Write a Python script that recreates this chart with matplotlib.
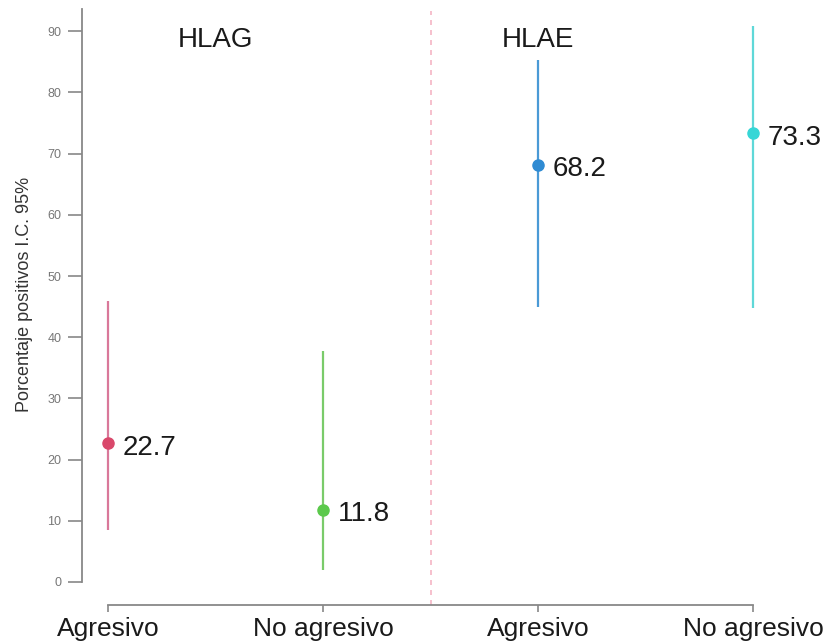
import matplotlib
matplotlib.use("Agg")
import matplotlib.pyplot as plt

plt.rcParams['font.family'] = ['Liberation Sans', 'DejaVu Sans']

categories = ["Agresivo", "No agresivo", "Agresivo", "No agresivo"]
groups = ["HLAG", "HLAE"]
values = [22.7, 11.8, 68.2, 73.3]
ci_low = [8.5, 2.0, 45.0, 44.8]
ci_high = [45.9, 37.8, 85.3, 90.9]
point_colors = ["#d9486b", "#5bc94b", "#2f8bd3", "#36d6d6"]
line_colors = ["#d9789a", "#7acb6a", "#4a9ad6", "#5fd8d8"]
yticks = [0, 10, 20, 30, 40, 50, 60, 70, 80, 90]

fig = plt.figure(figsize=(8.32, 6.44), dpi=100)
ax = fig.add_axes([0.0986, 0.0606, 0.851, 0.9317])

xs = [1, 2, 3, 4]
for x, v, lo, hi, pc, lc in zip(xs, values, ci_low, ci_high, point_colors, line_colors):
    ax.plot([x, x], [lo, hi], color=lc, lw=1.6, solid_capstyle='butt', zorder=2)
    ax.plot([x], [v], 'o', color=pc, markersize=8, zorder=3)
    ax.annotate(f"{v:.1f}", (x, v), xytext=(10.5, -8.3), textcoords='offset points',
                fontsize=20, va='baseline', ha='left', color='#1a1a1a')

ax.axvline(2.5, color='#f5b5c5', lw=1.2, ls=(0, (3, 3)), ymin=0.0, ymax=0.99, zorder=1)

ax.text(1.498, 87.5, groups[0], fontsize=20, ha='center', va='baseline', color='#1a1a1a')
ax.text(3.0, 87.5, groups[1], fontsize=20, ha='center', va='baseline', color='#1a1a1a')

ax.set_xlim(0.879, 4.172)
ax.set_ylim(-3.76, 94.3)
ax.set_xticks(xs)
ax.set_xticklabels(categories, fontsize=19, color='#1a1a1a')
ax.set_yticks(yticks)
ax.set_yticklabels([str(t) for t in yticks], fontsize=9, color='#777777')
ax.set_ylabel("Porcentaje positivos I.C. 95%", fontsize=13, color='#333333')
ax.yaxis.set_label_coords(-0.069, 0.517)

for s in ['top', 'right']:
    ax.spines[s].set_visible(False)
ax.spines['left'].set_bounds(0, 93.7)
ax.spines['bottom'].set_bounds(1, 4)
ax.spines['left'].set_color('#888888')
ax.spines['bottom'].set_color('#888888')
ax.spines['left'].set_linewidth(1.3)
ax.spines['bottom'].set_linewidth(1.3)
ax.tick_params(axis='y', length=10, color='#888888', width=1.2, pad=5)
ax.tick_params(axis='x', length=5, color='#888888', width=1.2, pad=4)

fig.savefig("out.png", dpi=100)
